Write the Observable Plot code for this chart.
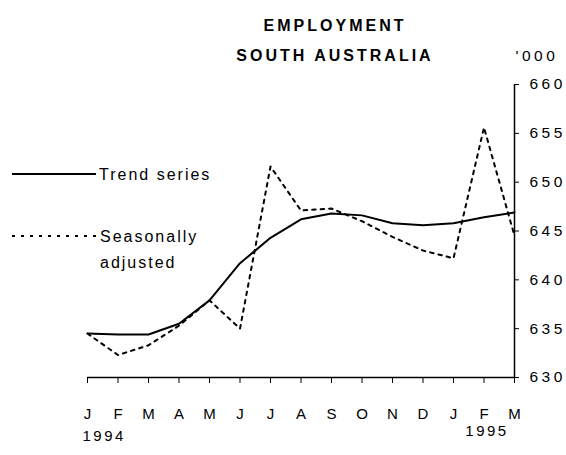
<!DOCTYPE html>
<html>
<head>
<meta charset="utf-8">
<script src="https://cdn.jsdelivr.net/npm/d3@7"></script>
<script src="https://cdn.jsdelivr.net/npm/@observablehq/plot@0.6"></script>
<style>
  html, body { margin: 0; padding: 0; background: #fff; }
  #chart { position: relative; width: 566px; height: 455px; }
</style>
</head>
<body>
<div id="chart"></div>
<script>
// Month labels, Jan 1994 .. Mar 1995
const monthLabels = ["J","F","M","A","M","J","J","A","S","O","N","D","J","F","M"];
const monthIndex = monthLabels.map((_, i) => i);
// Employment, South Australia ('000)
const trendSeries = [634.5, 634.4, 634.4, 635.5, 637.9, 641.7, 644.3, 646.2, 646.8, 646.6, 645.8, 645.6, 645.8, 646.4, 646.9];
const seasonallyAdjusted = [634.5, 632.3, 633.3, 635.3, 637.9, 635.0, 651.6, 647.1, 647.3, 646.0, 644.4, 643.0, 642.2, 655.6, 644.5];
const yTicks = [630, 635, 640, 645, 650, 655, 660];
const yearLabels = ["1994", "1995"];
const yearIndex = [0, 13];
const titleLines = ["EMPLOYMENT", "SOUTH AUSTRALIA"];
const unitLabel = "'000";

const trendData = monthIndex.map(i => ({i, v: trendSeries[i]}));
const saData = monthIndex.map(i => ({i, v: seasonallyAdjusted[i]}));

const chart = Plot.plot({
  width: 566,
  height: 455,
  marginLeft: 87,
  marginRight: 52,
  marginTop: 84,
  marginBottom: 78,
  style: {fontFamily: "'Liberation Sans', Arial, sans-serif", fontSize: "15px", color: "#000", background: "#fff"},
  x: {type: "linear", domain: [0, 14], label: null},
  y: {domain: [630, 660], label: null},
  marks: [
    Plot.axisX(monthIndex, {tickFormat: i => monthLabels[i], tickSize: 6, tickPadding: 25, label: null, fontSize: 15}),
    Plot.axisY(yTicks, {anchor: "right", tickSize: 4, tickPadding: 11, label: null, fontSize: 15.5}),
    Plot.ruleY([yTicks[0]], {stroke: "#000", strokeWidth: 1.5}),
    Plot.ruleX([monthIndex[monthIndex.length - 1]], {stroke: "#000", strokeWidth: 1.5}),
    Plot.line(saData, {x: "i", y: "v", stroke: "#000", strokeWidth: 2, strokeDasharray: "3.5,5"}),
    Plot.line(trendData, {x: "i", y: "v", stroke: "#000", strokeWidth: 2}),
    Plot.text([yearLabels[0]], {x: [yearIndex[0]], frameAnchor: "bottom", dy: 63, dx: -5, textAnchor: "start", fill: "#000", fontSize: 15}),
    Plot.text([yearLabels[1]], {x: [yearIndex[1]], frameAnchor: "bottom", dy: 58, dx: 3, textAnchor: "middle", fill: "#000", fontSize: 15}),
    Plot.text([titleLines[0]], {frameAnchor: "top", dx: 34, dy: -65, fontWeight: "bold", fontSize: 16, fill: "#000"}),
    Plot.text([titleLines[1]], {frameAnchor: "top", dx: 34, dy: -35, fontWeight: "bold", fontSize: 16, fill: "#000"}),
    Plot.text([unitLabel], {frameAnchor: "top-right", dx: 1, dy: -35, textAnchor: "start", fontSize: 15.5, fill: "#000"})
  ]
});

const svg = d3.select(chart);
svg.style("letter-spacing", "2.5px");
svg.selectAll("text").each(function() {
  const t = this.textContent;
  if (t === titleLines[0] || t === titleLines[1]) d3.select(this).style("letter-spacing", "3px");
  else if (t === unitLabel || yTicks.map(String).includes(t)) d3.select(this).style("letter-spacing", "3.5px");
  else if (monthLabels.includes(t)) d3.select(this).style("letter-spacing", "0px");
});

// Legend
const lg = svg.append("g").attr("fill", "none").attr("stroke", "#000").attr("stroke-width", 2);
lg.append("line").attr("x1", 12).attr("x2", 96).attr("y1", 174).attr("y2", 174);
lg.append("line").attr("x1", 12).attr("x2", 97).attr("y1", 236).attr("y2", 236).attr("stroke-dasharray", "3,6");
const lt = svg.append("g").attr("fill", "#000").attr("text-anchor", "start")
  .style("font-size", "16px").style("letter-spacing", "2px");
lt.append("text").attr("x", 99).attr("y", 180).text("Trend series");
lt.append("text").attr("x", 100).attr("y", 242).text("Seasonally");
lt.append("text").attr("x", 100).attr("y", 268).text("adjusted");

document.getElementById("chart").appendChild(chart);
</script>
</body>
</html>
